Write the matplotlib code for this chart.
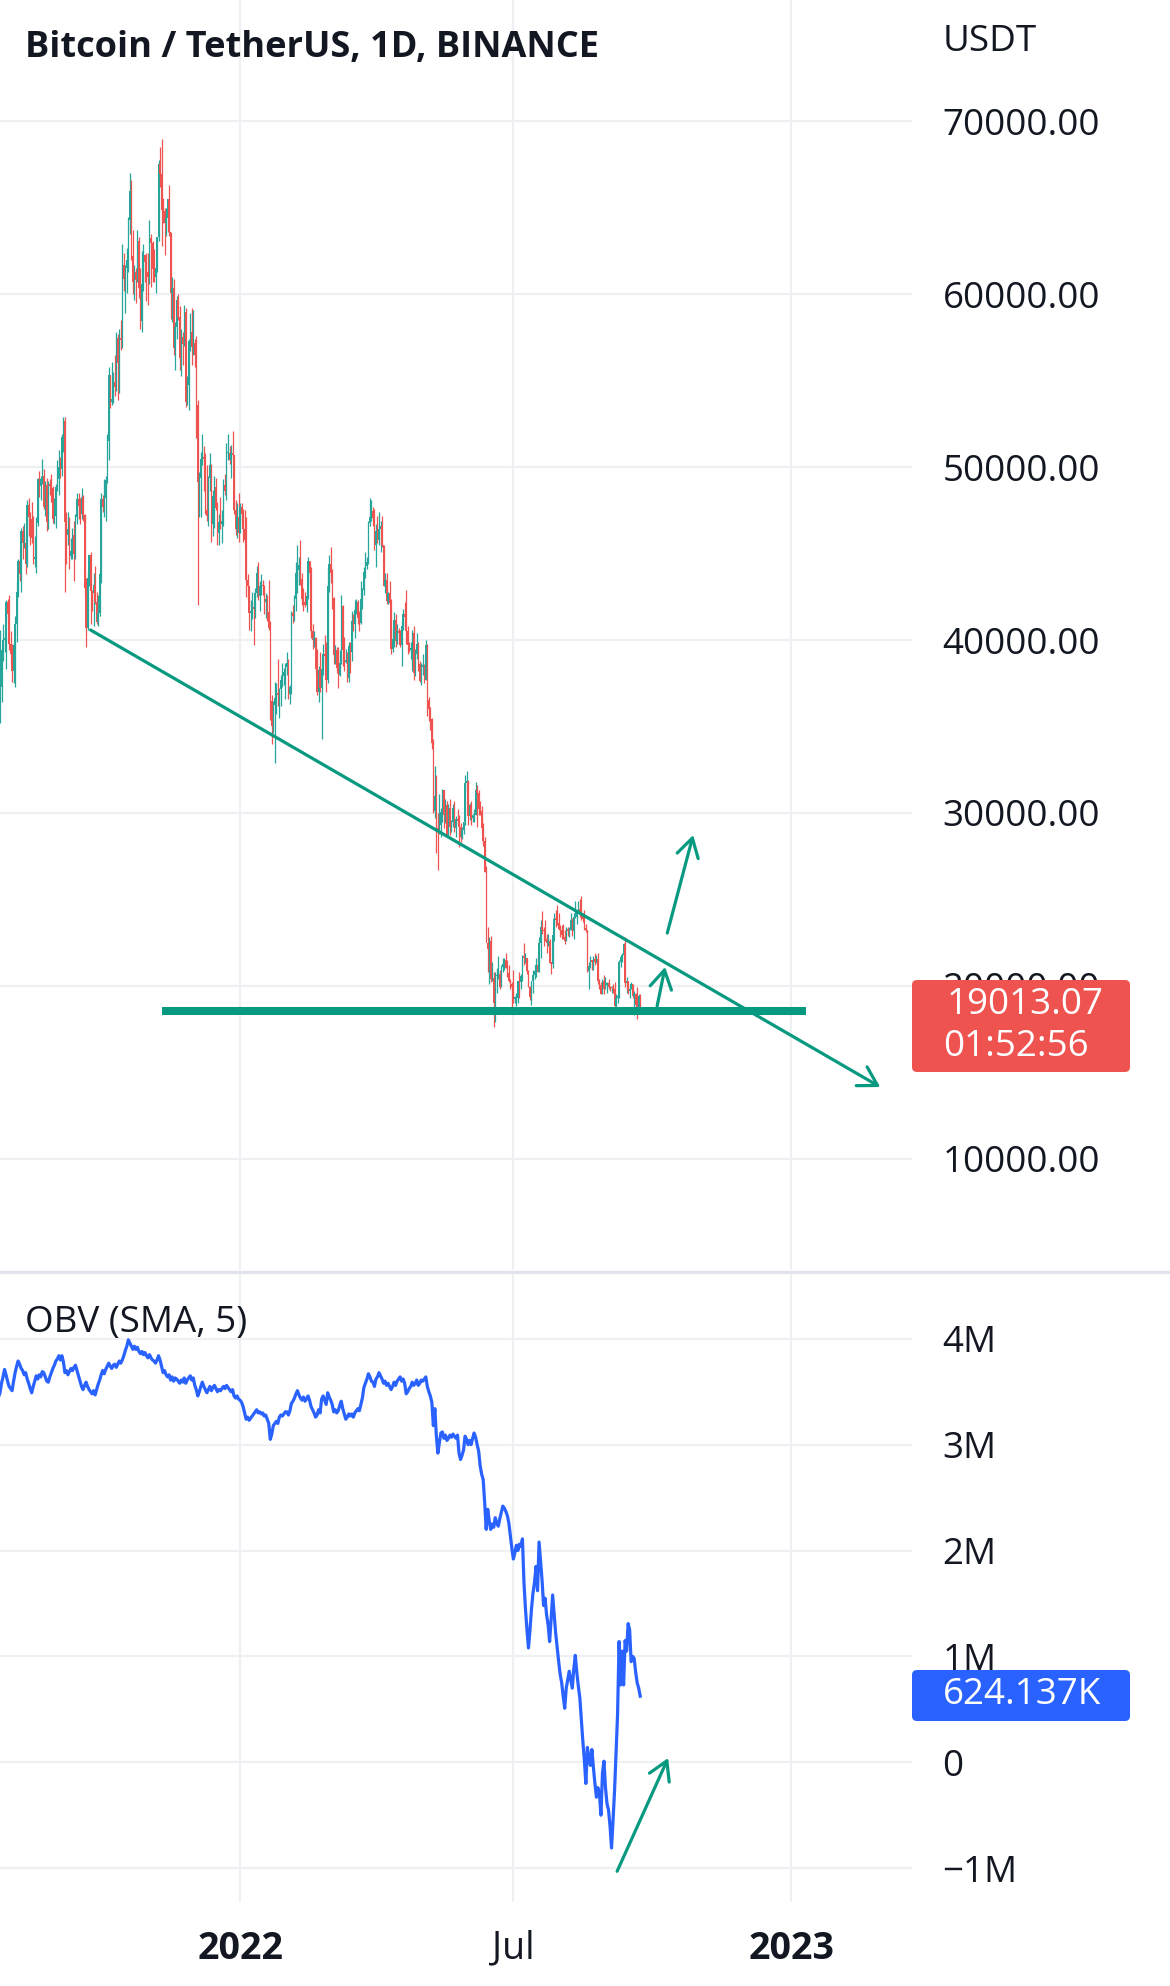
import matplotlib
matplotlib.use('Agg')
import matplotlib.pyplot as plt
import matplotlib.dates as mdates
from matplotlib.patches import FancyBboxPatch
from matplotlib.lines import Line2D
from matplotlib.transforms import IdentityTransform
import numpy as np
import pandas as pd

plt.rcParams['font.family'] = ['Open Sans', 'DejaVu Sans']

# daily candles: (high, low, close) in thousands of USDT
# open of each candle = close of the day before
first_open = 34.3
jul21 = [(35.4, 33.9, 35.4), (40.6, 35.2, 37.3), (39.5, 36.4, 39.4), (40.9, 38.8, 40.0),
         (40.6, 39.3, 40.0), (42.3, 38.3, 42.2), (42.4, 41.1, 41.5)]
aug21 = [(42.6, 39.4, 39.8), (40.5, 38.7, 39.2), (39.8, 37.6, 38.2), (39.9, 37.5, 39.7),
         (41.4, 37.3, 40.9), (43.4, 39.9, 42.8), (44.7, 42.5, 44.6), (45.3, 43.4, 43.8),
         (46.5, 42.8, 46.3), (46.6, 44.7, 45.6), (46.8, 45.3, 45.6), (46.2, 43.8, 44.4),
         (48.1, 44.2, 47.8), (48.2, 46.0, 47.1), (47.4, 45.5, 47.0), (48.0, 45.6, 45.9),
         (47.2, 44.4, 44.7), (46.0, 44.2, 44.7), (47.1, 43.9, 46.8), (49.4, 46.6, 49.3),
         (49.8, 48.3, 48.9), (49.5, 48.1, 49.3), (50.5, 49.0, 49.5), (49.9, 47.6, 47.7),
         (49.2, 47.2, 48.95), (49.4, 46.3, 46.85), (49.2, 46.4, 49.05), (49.3, 48.4, 48.9),
         (49.6, 48.0, 48.8), (48.9, 46.8, 47.0), (48.2, 46.7, 47.15)]
sep21 = [(49.0, 46.5, 48.85), (50.4, 48.6, 49.3), (51.0, 48.4, 50.0), (50.6, 49.4, 49.9),
         (51.9, 49.5, 51.75), (52.9, 50.9, 52.7), (52.9, 42.8, 46.85), (47.4, 44.4, 46.1),
         (47.4, 45.5, 46.4), (47.1, 44.1, 44.85), (45.9, 44.7, 45.15), (46.5, 44.7, 46.05),
         (46.9, 43.4, 44.95), (47.3, 44.7, 47.1), (48.5, 46.7, 48.15), (48.5, 47.0, 47.75),
         (48.2, 46.7, 47.3), (48.8, 47.0, 48.3), (48.4, 46.9, 47.25), (47.3, 42.5, 43.0),
         (43.6, 39.6, 40.7), (44.0, 40.6, 43.6), (44.9, 43.1, 44.9), (45.1, 40.9, 42.85),
         (42.9, 41.7, 42.7), (43.9, 40.8, 43.2), (44.3, 42.1, 42.2), (42.8, 40.9, 41.05),
         (42.6, 40.8, 41.55), (44.1, 41.4, 43.8)]
oct21 = [(48.5, 43.3, 48.15), (48.4, 47.4, 47.7), (49.3, 47.1, 48.2), (49.5, 46.9, 49.25),
         (51.9, 49.1, 51.5), (55.8, 50.4, 55.35), (55.3, 53.4, 53.8), (56.1, 53.6, 53.95),
         (55.5, 53.7, 54.95), (56.5, 54.1, 54.65), (57.8, 54.4, 57.5), (57.7, 53.9, 56.0),
         (58.0, 54.3, 57.4), (58.5, 56.8, 57.35), (62.9, 56.9, 61.7), (62.4, 60.2, 60.9),
         (61.7, 58.9, 61.55), (62.7, 60.1, 62.0), (64.5, 61.3, 64.3), (67.0, 63.5, 66.0),
         (66.6, 62.0, 62.2), (63.7, 60.0, 60.7), (61.7, 59.7, 61.3), (61.5, 59.5, 60.85),
         (63.7, 60.7, 63.1), (63.3, 59.8, 60.35), (61.5, 58.0, 58.45), (62.5, 57.8, 60.6),
         (62.9, 60.2, 62.25), (62.3, 60.7, 61.9), (62.4, 59.6, 61.3)]
nov21 = [(62.4, 59.4, 61.0), (64.3, 60.6, 63.25), (63.5, 60.4, 62.95), (63.1, 60.7, 61.45),
         (62.6, 60.7, 61.0), (61.6, 60.1, 61.5), (63.3, 61.3, 63.3), (67.8, 63.1, 67.55),
         (68.5, 66.2, 66.95), (69.0, 62.8, 64.9), (65.6, 64.1, 64.8), (65.0, 62.3, 64.15),
         (65.0, 63.4, 64.4), (65.5, 63.6, 65.5), (66.3, 63.4, 63.6), (63.6, 58.6, 60.1),
         (61.0, 58.4, 60.35), (60.9, 56.5, 56.9), (58.4, 55.6, 58.1), (59.9, 57.4, 59.7),
         (60.0, 58.5, 58.7), (59.3, 55.6, 56.3), (58.0, 55.3, 57.55), (57.8, 55.9, 57.15),
         (59.4, 57.0, 58.95), (59.2, 53.5, 53.75), (55.3, 53.6, 54.75), (57.4, 53.3, 57.3),
         (58.9, 56.7, 57.8), (59.2, 55.9, 56.95)]
dec21 = [(59.1, 56.5, 57.2), (57.4, 55.8, 56.5), (57.6, 51.7, 53.6), (53.9, 42.0, 49.15),
         (49.7, 47.1, 49.4), (50.9, 47.1, 50.45), (51.9, 50.1, 50.6), (51.2, 48.6, 50.5),
         (50.8, 47.3, 47.55), (50.1, 46.9, 47.15), (49.5, 46.6, 49.4), (50.8, 48.6, 50.1),
         (50.2, 45.7, 46.7), (48.7, 46.0, 48.35), (49.5, 46.5, 48.85), (49.4, 47.5, 47.65),
         (48.0, 45.5, 46.2), (47.3, 45.5, 46.85), (48.3, 46.4, 46.7), (47.5, 45.6, 46.9),
         (49.3, 46.6, 48.95), (49.6, 48.4, 48.6), (51.4, 48.1, 50.8), (51.9, 50.4, 50.8),
         (51.2, 50.2, 50.4), (51.3, 49.4, 50.8), (52.1, 50.5, 50.7), (50.7, 47.3, 47.55),
         (48.1, 46.1, 46.45), (47.9, 45.9, 47.1), (48.5, 45.7, 46.2)]
jan22 = [(47.9, 46.2, 47.7), (47.9, 46.7, 47.3), (47.6, 45.7, 46.45), (47.5, 45.5, 45.8),
         (47.1, 42.5, 43.45), (43.8, 42.4, 43.1), (43.1, 40.6, 41.55), (42.3, 40.5, 41.7),
         (42.8, 41.2, 41.85), (42.2, 39.7, 41.8), (43.0, 41.3, 42.7), (44.3, 42.5, 43.9),
         (44.5, 42.3, 42.55), (43.4, 41.7, 43.1), (43.8, 42.6, 43.2), (43.5, 42.6, 43.1),
         (43.2, 41.5, 42.2), (42.7, 41.3, 42.35), (42.6, 41.1, 41.65), (43.5, 40.6, 40.7),
         (41.1, 35.4, 36.45), (36.8, 34.0, 35.05), (36.5, 34.6, 36.25), (37.6, 32.9, 36.65),
         (37.5, 35.7, 36.95), (38.9, 36.2, 36.8), (37.2, 35.5, 37.15), (38.0, 36.2, 37.7),
         (38.7, 37.3, 37.9), (38.4, 37.4, 38.15), (38.7, 36.6, 38.45)]
feb22 = [(39.3, 38.0, 38.7), (38.9, 36.6, 36.9), (37.4, 36.3, 37.3), (41.7, 36.9, 41.55),
         (42.0, 41.0, 41.4), (42.6, 41.1, 42.4), (44.5, 41.7, 43.85), (45.5, 42.7, 44.05),
         (44.8, 43.2, 44.35), (45.8, 43.2, 43.55), (43.9, 42.0, 42.4), (43.0, 41.7, 42.2),
         (42.8, 41.9, 42.05), (42.9, 41.6, 42.55), (44.8, 42.4, 44.55), (44.6, 43.3, 43.85),
         (44.2, 40.1, 40.5), (40.9, 39.5, 40.0), (40.5, 39.6, 40.1), (40.2, 38.0, 38.35),
         (39.5, 36.8, 37.0), (38.5, 36.4, 38.25), (39.3, 37.0, 37.25), (39.0, 34.3, 38.35),
         (39.8, 38.0, 39.2), (40.3, 38.6, 39.1), (39.9, 37.0, 37.7), (44.2, 37.5, 43.15)]
mar22 = [(44.9, 42.8, 44.4), (45.4, 43.3, 43.9), (44.1, 41.8, 42.45), (42.5, 38.6, 39.15),
         (39.7, 38.6, 39.4), (39.6, 38.1, 38.4), (39.6, 37.2, 37.95), (39.4, 37.9, 38.7),
         (42.6, 38.6, 41.95), (42.0, 38.5, 39.4), (40.2, 38.2, 38.75), (39.5, 38.7, 38.8),
         (39.3, 37.6, 37.8), (39.9, 37.6, 39.65), (39.9, 38.1, 39.3), (41.7, 38.8, 41.1),
         (41.5, 40.5, 40.9), (42.3, 40.1, 41.75), (42.4, 41.5, 42.2), (42.3, 40.9, 41.25),
         (41.7, 40.5, 41.0), (43.4, 40.9, 42.35), (43.0, 41.8, 42.9), (44.2, 42.6, 43.95),
         (45.1, 43.6, 44.3), (44.8, 44.1, 44.5), (46.9, 44.4, 46.8), (48.2, 46.6, 47.1),
         (48.1, 46.9, 47.45), (47.7, 46.6, 47.05), (47.6, 45.2, 45.5)]
apr22 = [(46.7, 44.2, 46.3), (47.2, 45.6, 45.8), (47.4, 45.5, 46.4), (46.9, 45.1, 46.6),
         (47.2, 45.4, 45.5), (45.5, 43.1, 43.15), (43.9, 42.7, 43.45), (43.9, 42.1, 42.25),
         (42.8, 42.1, 42.75), (43.4, 42.0, 42.15), (42.4, 39.2, 39.5), (40.7, 39.3, 40.05),
         (41.6, 39.6, 41.15), (41.5, 39.6, 39.95), (40.9, 39.8, 40.55), (40.7, 40.0, 40.4),
         (40.6, 39.6, 39.7), (41.1, 38.5, 40.8), (41.8, 40.6, 41.5), (42.2, 40.8, 41.35),
         (42.9, 39.8, 40.5), (40.8, 39.2, 39.7), (39.9, 39.3, 39.45), (39.9, 38.9, 39.45),
         (40.6, 38.2, 40.4), (40.8, 37.7, 38.1), (39.5, 37.9, 39.2), (40.4, 38.9, 39.75),
         (39.9, 38.2, 38.6), (38.8, 37.6, 37.65)]
may22 = [(38.7, 37.4, 38.45), (39.2, 38.0, 38.5), (38.6, 37.5, 37.7), (40.0, 37.7, 39.7),
         (39.8, 35.6, 36.55), (36.7, 35.3, 36.0), (36.1, 34.8, 35.45), (35.5, 33.7, 34.05),
         (34.3, 30.0, 30.1), (32.7, 29.7, 31.0), (32.2, 27.7, 29.1), (30.0, 26.7, 28.95),
         (31.1, 28.8, 29.3), (30.3, 28.6, 30.05), (31.4, 29.5, 31.3), (31.3, 29.1, 29.85),
         (30.8, 29.4, 30.45), (30.7, 28.7, 28.7), (30.5, 28.7, 30.3), (30.8, 28.7, 29.2),
         (29.6, 28.9, 29.45), (30.5, 29.2, 30.3), (30.7, 28.9, 29.1), (29.8, 28.6, 29.65),
         (30.2, 29.3, 29.55), (29.9, 28.0, 29.2), (29.4, 28.3, 28.6), (29.2, 28.5, 29.0),
         (29.5, 28.8, 29.45), (32.2, 29.3, 31.75), (32.4, 31.2, 31.8)]
jun22 = [(31.9, 29.3, 29.8), (30.6, 29.6, 30.45), (30.7, 29.3, 29.7), (29.9, 29.5, 29.85),
         (30.2, 29.5, 29.9), (31.8, 29.9, 31.35), (31.6, 29.2, 31.15), (31.3, 29.9, 30.2),
         (30.7, 29.9, 30.1), (30.4, 28.9, 29.1), (29.4, 28.1, 28.4), (28.6, 26.6, 26.6),
         (26.9, 22.6, 22.5), (23.4, 20.8, 22.15), (22.8, 20.1, 22.6), (22.9, 20.2, 20.4),
         (21.4, 20.3, 20.45), (20.8, 17.6, 19.0), (20.8, 17.9, 20.55), (21.0, 19.6, 20.55),
         (21.7, 20.4, 20.7), (20.9, 19.8, 19.95), (21.2, 19.9, 21.1), (21.6, 20.8, 21.25),
         (21.6, 20.9, 21.5), (21.9, 21.0, 21.05), (21.5, 20.5, 20.75), (21.2, 20.2, 20.3),
         (20.4, 19.8, 20.1), (20.2, 18.6, 19.95)]
jul22 = [(20.9, 19.0, 19.25), (19.4, 19.0, 19.3), (19.6, 18.8, 19.3), (20.3, 19.0, 20.25),
         (20.8, 19.3, 20.2), (20.7, 19.8, 20.55), (21.8, 20.3, 21.65), (22.5, 21.2, 21.6),
         (21.9, 21.3, 21.6), (21.6, 20.7, 20.85), (20.9, 19.9, 19.95), (20.0, 19.2, 19.35),
         (20.3, 18.9, 20.25), (20.9, 19.6, 20.6), (21.2, 20.4, 20.85), (21.6, 20.5, 21.2),
         (21.7, 20.8, 20.8), (22.8, 20.8, 22.45), (23.8, 21.6, 23.4), (24.3, 23.0, 23.25),
         (23.4, 22.3, 23.15), (23.8, 22.6, 22.7), (23.0, 21.9, 22.45), (23.0, 22.3, 22.6),
         (22.7, 21.3, 21.3), (21.4, 20.7, 21.25), (23.1, 21.0, 22.95), (24.2, 22.6, 23.85),
         (24.4, 23.4, 23.8), (24.7, 23.5, 23.65), (24.2, 23.2, 23.3)]
aug22 = [(23.5, 22.8, 23.25), (23.5, 22.7, 22.95), (23.6, 22.7, 22.8), (23.2, 22.4, 22.6),
         (23.4, 22.6, 23.3), (23.4, 22.9, 23.15), (23.4, 22.8, 23.2), (24.2, 23.2, 23.8),
         (23.9, 22.9, 23.15), (24.2, 22.7, 23.95), (24.9, 23.9, 23.95), (24.4, 23.6, 24.4),
         (24.9, 24.3, 24.45), (25.0, 24.0, 24.3), (25.2, 23.8, 24.1), (24.2, 23.7, 23.85),
         (24.4, 23.2, 23.35), (23.6, 23.1, 23.2), (23.2, 20.8, 20.85), (21.4, 19.8, 21.15),
         (21.7, 21.0, 21.5), (21.5, 20.9, 21.4), (21.7, 20.9, 21.55), (21.9, 21.2, 21.35),
         (21.8, 21.3, 21.55), (21.9, 20.1, 20.25), (20.4, 19.8, 20.05), (20.2, 19.5, 19.55),
         (20.4, 19.5, 20.3), (20.6, 19.5, 19.8), (20.5, 19.8, 20.05)]
sep22 = [(20.2, 19.6, 20.15), (20.4, 19.8, 19.95), (20.0, 19.7, 19.85), (20.0, 19.6, 19.95),
         (20.1, 19.6, 19.8), (20.2, 18.7, 18.8), (19.5, 18.5, 19.3), (19.5, 19.0, 19.3),
         (21.5, 19.3, 21.35), (21.8, 21.1, 21.65), (21.9, 21.4, 21.8), (22.5, 21.6, 22.4),
         (22.8, 19.9, 20.15), (20.5, 19.6, 20.25), (20.3, 19.5, 19.7), (19.9, 19.3, 19.8),
         (20.2, 19.8, 20.1), (20.1, 19.3, 19.4), (19.7, 18.3, 19.55), (19.6, 18.7, 18.9),
         (19.95, 18.1, 18.5), (19.5, 18.4, 19.4), (19.5, 18.5, 19.01307)]

# OBV (millions)
obv_jul21 = [3.45, 3.49, 3.58, 3.64, 3.71, 3.66, 3.60]
obv_aug21 = [3.55, 3.53, 3.51, 3.60, 3.68, 3.74, 3.79, 3.76, 3.72, 3.70, 3.66, 3.68, 3.62, 3.58, 3.53, 3.49,
             3.55, 3.60, 3.65, 3.62, 3.66, 3.64, 3.69, 3.68, 3.64, 3.60, 3.59, 3.64, 3.68, 3.72, 3.75]
obv_sep21 = [3.79, 3.81, 3.84, 3.80, 3.84, 3.78, 3.68, 3.70, 3.66, 3.69, 3.72, 3.70, 3.73, 3.75, 3.70,
             3.65, 3.60, 3.55, 3.52, 3.56, 3.59, 3.55, 3.52, 3.50, 3.48, 3.51, 3.47, 3.52, 3.57, 3.61]
obv_oct21 = [3.66, 3.70, 3.67, 3.71, 3.74, 3.77, 3.74, 3.72, 3.75, 3.76, 3.73, 3.76, 3.79, 3.77, 3.80, 3.84,
             3.89, 3.93, 3.99, 3.96, 3.93, 3.90, 3.93, 3.90, 3.92, 3.88, 3.86, 3.88, 3.85, 3.87, 3.84]
obv_nov21 = [3.82, 3.85, 3.82, 3.80, 3.79, 3.77, 3.80, 3.84, 3.80, 3.74, 3.68, 3.70, 3.66, 3.64, 3.66,
             3.61, 3.64, 3.60, 3.63, 3.62, 3.60, 3.58, 3.61, 3.59, 3.63, 3.58, 3.61, 3.63, 3.65, 3.61]
obv_dec21 = [3.63, 3.56, 3.52, 3.46, 3.50, 3.55, 3.59, 3.55, 3.52, 3.49, 3.52, 3.55, 3.51, 3.54, 3.56, 3.53,
             3.50, 3.52, 3.51, 3.53, 3.55, 3.53, 3.56, 3.54, 3.52, 3.50, 3.52, 3.46, 3.44, 3.46, 3.43]
obv_jan22 = [3.42, 3.40, 3.36, 3.30, 3.24, 3.26, 3.23, 3.25, 3.27, 3.29, 3.31, 3.33, 3.30, 3.31, 3.29, 3.30,
             3.27, 3.28, 3.24, 3.20, 3.05, 3.10, 3.18, 3.20, 3.22, 3.20, 3.26, 3.28, 3.27, 3.29, 3.31]
obv_feb22 = [3.31, 3.28, 3.32, 3.39, 3.41, 3.44, 3.48, 3.51, 3.47, 3.44, 3.42, 3.45, 3.41, 3.43,
             3.46, 3.42, 3.36, 3.33, 3.30, 3.26, 3.28, 3.33, 3.30, 3.43, 3.46, 3.42, 3.38, 3.49]
obv_mar22 = [3.45, 3.42, 3.38, 3.31, 3.33, 3.30, 3.32, 3.37, 3.41, 3.34, 3.29, 3.24, 3.26, 3.29, 3.27, 3.29,
             3.26, 3.30, 3.32, 3.34, 3.32, 3.38, 3.44, 3.54, 3.58, 3.62, 3.67, 3.64, 3.60, 3.59, 3.55]
obv_apr22 = [3.62, 3.64, 3.68, 3.65, 3.62, 3.58, 3.60, 3.56, 3.58, 3.55, 3.52, 3.55, 3.59, 3.56, 3.60,
             3.62, 3.64, 3.60, 3.62, 3.58, 3.48, 3.50, 3.53, 3.55, 3.59, 3.56, 3.58, 3.61, 3.56, 3.58]
obv_may22 = [3.61, 3.60, 3.62, 3.64, 3.55, 3.50, 3.46, 3.40, 3.18, 3.34, 3.08, 2.92, 3.02, 3.11, 3.12, 3.06,
             3.09, 3.04, 3.06, 3.09, 3.07, 3.10, 3.08, 3.06, 3.09, 2.92, 2.86, 2.90, 2.95, 3.08, 3.05]
obv_jun22 = [3.00, 3.04, 3.00, 3.06, 3.11, 3.07, 3.00, 2.94, 2.80, 2.72, 2.67, 2.45, 2.20, 2.39, 2.28,
             2.20, 2.25, 2.22, 2.31, 2.26, 2.23, 2.30, 2.36, 2.42, 2.40, 2.37, 2.33, 2.26, 2.14, 2.02]
obv_jul22 = [1.92, 1.98, 2.05, 2.00, 2.06, 2.04, 2.11, 1.70, 1.45, 1.25, 1.08, 1.25, 1.45, 1.60, 1.70, 1.85,
             1.62, 2.08, 1.90, 1.72, 1.48, 1.55, 1.39, 1.30, 1.14, 1.35, 1.58, 1.40, 1.22, 1.08, 0.95]
obv_aug22 = [0.83, 0.75, 0.62, 0.51, 0.70, 0.78, 0.86, 0.78, 0.70, 0.88, 1.01, 0.85, 0.72, 0.61, 0.40, 0.20,
             0.02, -0.20, 0.14, 0.05, -0.03, 0.12, -0.05, -0.20, -0.33, -0.24, -0.30, -0.50, -0.10, 0.01, -0.24]
obv_sep22 = [-0.39, -0.45, -0.60, -0.81, -0.55, -0.27, 0.10, 0.45, 1.14, 0.73, 1.05, 0.73, 1.15, 1.05,
             1.31, 1.25, 0.95, 1.00, 0.98, 0.85, 0.75, 0.70, 0.624137]

month_starts = ['2021-07-25', '2021-08-01', '2021-09-01', '2021-10-01', '2021-11-01', '2021-12-01',
                '2022-01-01', '2022-02-01', '2022-03-01', '2022-04-01', '2022-05-01', '2022-06-01',
                '2022-07-01', '2022-08-01', '2022-09-01']
price_months = [jul21, aug21, sep21, oct21, nov21, dec21, jan22, feb22, mar22, apr22, may22, jun22,
                jul22, aug22, sep22]
obv_months = [obv_jul21, obv_aug21, obv_sep21, obv_oct21, obv_nov21, obv_dec21, obv_jan22, obv_feb22,
              obv_mar22, obv_apr22, obv_may22, obv_jun22, obv_jul22, obv_aug22, obv_sep22]

price_ticks = [10000, 20000, 30000, 40000, 50000, 60000, 70000]
obv_ticks = [-1, 0, 1, 2, 3, 4]
obv_tick_labels = ['\u22121M', '0', '1M', '2M', '3M', '4M']
x_tick_dates = ['2022-01-01', '2022-07-01', '2023-01-01']
x_tick_labels = ['2022', 'Jul', '2023']
x_tick_bold = [True, False, True]

# drawings on the chart
trend_dates = ['2021-09-24', '2023-03-01']
trend_prices = [40580, 14140]
support_dates = ['2021-11-10', '2023-01-11']
support_price = 18540
arrow1_dates = ['2022-10-04 05:00', '2022-10-09 12:00']
arrow1_prices = [18830, 21090]
arrow2_dates = ['2022-10-10 22:00', '2022-10-28 02:00']
arrow2_prices = [23050, 28720]
obv_arrow_dates = ['2022-09-07 17:00', '2022-10-11 12:00']
obv_arrow_values = [-1.03, 0.04]

last_price = '19013.07'
countdown = '01:52:56'
last_obv = '624.137K'

GREEN = '#26a69a'
RED = '#ef5350'
DRAW = '#089981'
BLUE = '#2962ff'
GRID = '#eef0f3'
TXT = '#131722'

W, H = 1170, 1986

# build daily series
dates, highs, lows, closes = [], [], [], []
for start, rows in zip(month_starts, price_months):
    dates += list(pd.date_range(start, periods=len(rows), freq='D'))
    for h, l, c in rows:
        highs.append(h * 1000)
        lows.append(l * 1000)
        closes.append(c * 1000)
highs = np.array(highs)
lows = np.array(lows)
closes = np.array(closes)
opens = np.concatenate([[first_open * 1000], closes[:-1]])
x = mdates.date2num(dates)

obv_dates, obv = [], []
for start, vals in zip(month_starts, obv_months):
    obv_dates += list(pd.date_range(start, periods=len(vals), freq='D'))
    obv += vals

fig = plt.figure(figsize=(W / 100, H / 100), dpi=100)
ax = fig.add_axes([0, 1 - 1270 / H, 912 / W, 1270 / H])
ax2 = fig.add_axes([0, 1 - 1902 / H, 912 / W, (1902 - 1274) / H])

xlim = (mdates.date2num(pd.Timestamp('2021-07-26')), mdates.date2num(pd.Timestamp('2023-03-22')))

# candles
up = closes >= opens
col = np.where(up, GREEN, RED)
ax.vlines(x, lows, highs, colors=col, lw=0.9, zorder=2)
ax.bar(x, np.maximum(np.abs(closes - opens), 100), bottom=np.minimum(opens, closes),
       width=0.9, color=col, linewidth=0, zorder=2)

# drawings
ax.plot(pd.to_datetime(support_dates), [support_price] * 2, color=DRAW, lw=5.8,
        solid_capstyle='butt', zorder=4)
arrow = dict(arrowstyle='->,head_length=1.1,head_width=0.65', color=DRAW, lw=2.3,
             mutation_scale=12, shrinkA=0, shrinkB=0)
for ds, ps in [(trend_dates, trend_prices), (arrow1_dates, arrow1_prices), (arrow2_dates, arrow2_prices)]:
    d = mdates.date2num(pd.to_datetime(ds))
    ax.annotate('', xy=(d[1], ps[1]), xytext=(d[0], ps[0]), arrowprops=arrow, zorder=5)

ax.set_xlim(xlim)
ax.set_ylim(3555, 77029)
ax.set_yticks(price_ticks)
ax.set_yticklabels(['%.2f' % t for t in price_ticks])
ax.yaxis.tick_right()
ax.tick_params(axis='y', length=0, pad=22, labelsize=26.5, labelcolor=TXT)
ax.set_xticks(mdates.date2num(pd.to_datetime(x_tick_dates)))
ax.tick_params(axis='x', length=0, labelbottom=False)
ax.grid(True, color=GRID, lw=1.6, zorder=0)
ax.set_axisbelow(True)
for s in ax.spines.values():
    s.set_visible(False)

# OBV pane
d_obv = mdates.date2num(obv_dates)
ax2.plot(d_obv, obv, color=BLUE, lw=2.3, zorder=3)
d = mdates.date2num(pd.to_datetime(obv_arrow_dates))
ax2.annotate('', xy=(d[1], obv_arrow_values[1]), xytext=(d[0], obv_arrow_values[0]),
             arrowprops=arrow, zorder=5)
ax2.set_xlim(xlim)
ax2.set_ylim(-1.32, 4.612)
ax2.set_yticks(obv_ticks)
ax2.set_yticklabels(obv_tick_labels)
ax2.yaxis.tick_right()
ax2.tick_params(axis='y', length=0, pad=22, labelsize=26.5, labelcolor=TXT)
ax2.set_xticks(mdates.date2num(pd.to_datetime(x_tick_dates)))
labels = ax2.set_xticklabels(x_tick_labels)
for lab, b in zip(labels, x_tick_bold):
    lab.set_fontweight('bold' if b else 'normal')
ax2.tick_params(axis='x', length=0, pad=20, labelsize=27, labelcolor=TXT)
ax2.grid(True, color=GRID, lw=1.6, zorder=0)
ax2.set_axisbelow(True)
for s in ax2.spines.values():
    s.set_visible(False)

# pane separator
fig.add_artist(Line2D([0, 1], [1 - 1272 / H] * 2, transform=fig.transFigure, color='#e0e3eb', lw=2.4))

# texts
fig.text(25 / W, 1 - 48 / H, 'Bitcoin / TetherUS, 1D, BINANCE', fontsize=26, fontweight='bold',
         color=TXT, va='center', ha='left')
fig.text(943 / W, 1 - 42 / H, 'USDT', fontsize=26.5, color=TXT, va='center', ha='left')
fig.text(25 / W, 1 - 1323 / H, 'OBV (SMA, 5)', fontsize=26.5, color=TXT, va='center', ha='left', zorder=1)

# last price / countdown and last OBV labels
fig.add_artist(FancyBboxPatch((912, H - 1072), 218, 92, boxstyle='round,pad=0,rounding_size=5',
                              transform=IdentityTransform(), facecolor=RED, edgecolor='none', zorder=10))
fig.text(947 / W, 1 - 1005 / H, last_price, fontsize=26.5, color='white', va='center', ha='left', zorder=11)
fig.text(943 / W, 1 - 1047 / H, countdown, fontsize=26.5, color='white', va='center', ha='left', zorder=11)
fig.add_artist(FancyBboxPatch((912, H - 1721), 218, 51, boxstyle='round,pad=0,rounding_size=5',
                              transform=IdentityTransform(), facecolor=BLUE, edgecolor='none', zorder=10))
fig.text(943 / W, 1 - 1695 / H, last_obv, fontsize=26.5, color='white', va='center', ha='left', zorder=11)

fig.savefig('out.png', dpi=100, facecolor='white')
